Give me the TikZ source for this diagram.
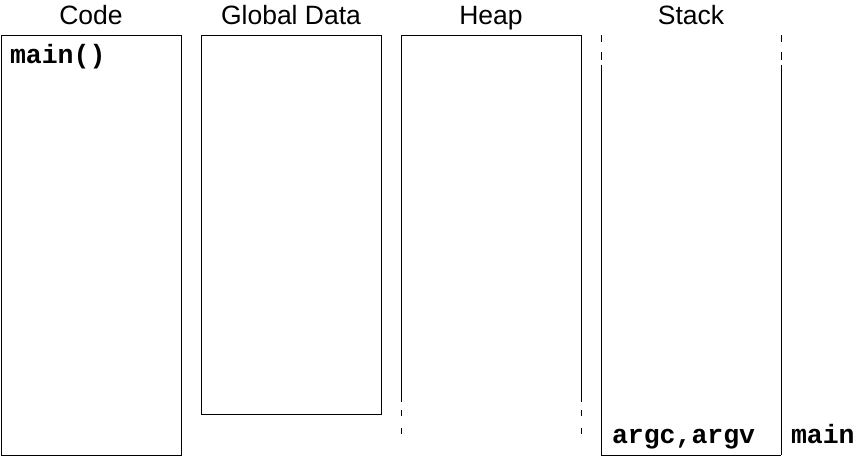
\documentclass[tikz,border=0pt]{standalone}
\usepackage{fontspec}
\setmainfont{Liberation Sans}
\setmonofont{Liberation Mono}
\usetikzlibrary{positioning}

\begin{document}
\begin{tikzpicture}[x=1pt, y=-1pt,
                every node/.style={inner sep=0pt, outer sep=0pt}, % plain anchors
                segment/.style={minimum width=180pt, anchor=north west}, % one memory region
                title/.style={font=\fontsize{26.5}{30}\selectfont, anchor=base},
                tag/.style={font=\fontsize{26.5}{30}\selectfont\ttfamily\bfseries, anchor=base west},
                edge/.style={line width=1pt},
                heapside/.style={line width=1pt, dash pattern=on 367pt off 8pt on 6pt off 12pt on 6pt},
                stackside/.style={line width=1pt, dash pattern=on 7pt off 10pt on 8pt off 5pt on 390pt}
                ]
                \useasboundingbox (0,0) rectangle (859,456);
                % regions
                \node[segment, draw, edge, minimum height=420pt] (code) at (1,35) {};
                \node[segment, draw, edge, minimum height=379pt] (global) at (201,35) {};
                \node[segment, minimum height=399pt] (heap) at (401,35) {};
                \node[segment, minimum height=420pt] (stack) at (601,35) {};
                % open ends
                \draw[edge] (heap.north west) -- (heap.north east);
                \draw[heapside] (heap.north west) -- (heap.south west);
                \draw[heapside] (heap.north east) -- (heap.south east);
                \draw[edge] (stack.south west) -- (stack.south east);
                \draw[stackside] (stack.north west) -- (stack.south west);
                \draw[stackside] (stack.north east) -- (stack.south east);
                % titles
                \node[title] (codetitle) at ([yshift=11pt]code.north) {Code};
                \node[title] (globaltitle) at ([yshift=11pt]global.north) {Global Data};
                \node[title] (heaptitle) at ([yshift=11pt]heap.north) {Heap};
                \node[title] (stacktitle) at ([yshift=11pt]stack.north) {Stack};
                % contents
                \node[tag] (mainfn) at ([xshift=9pt, yshift=-28pt]code.north west) {main()};
                \node[tag] (args) at ([xshift=11pt, yshift=12pt]stack.south west) {argc,argv};
                \node[tag] (frame) at ([xshift=10pt, yshift=12pt]stack.south east) {main};
            \end{tikzpicture}
\end{document}
